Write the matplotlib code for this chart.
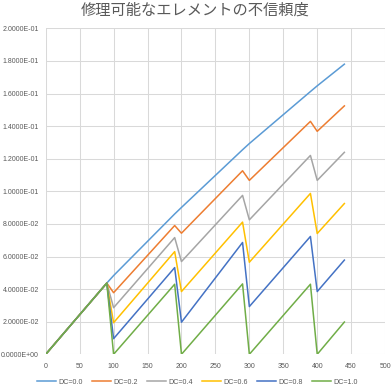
import numpy as np
import matplotlib.pyplot as plt
from matplotlib.ticker import FuncFormatter, MultipleLocator

plt.rcParams['font.family'] = ['Liberation Sans', 'DejaVu Sans']

# time points (test every 100, samples just before/after each test)
t = [0, 90, 100, 190, 200, 290, 300, 390, 400, 440]

dc00 = [0, 0.0437, 0.0483, 0.0861, 0.0901, 0.1255, 0.1293, 0.1612, 0.1647, 0.1780]
dc02 = [0, 0.0437, 0.0378, 0.0790, 0.0743, 0.1126, 0.1067, 0.1429, 0.1368, 0.1524]
dc04 = [0, 0.0437, 0.0286, 0.0716, 0.0569, 0.0975, 0.0825, 0.1220, 0.1067, 0.1239]
dc06 = [0, 0.0437, 0.0194, 0.0630, 0.0385, 0.0811, 0.0565, 0.0987, 0.0741, 0.0925]
dc08 = [0, 0.0437, 0.0096, 0.0532, 0.0197, 0.0686, 0.0293, 0.0723, 0.0385, 0.0578]
dc10 = [0, 0.0437, 0.0, 0.0430, 0.0, 0.0432, 0.0, 0.0430, 0.0, 0.0198]

labels = ['DC=0.0', 'DC=0.2', 'DC=0.4', 'DC=0.6', 'DC=0.8', 'DC=1.0']
colors = ['#5B9BD5', '#ED7D31', '#A5A5A5', '#FFC000', '#4472C4', '#70AD47']
series = [dc00, dc02, dc04, dc06, dc08, dc10]

fig = plt.figure(figsize=(3.91, 3.85), dpi=100)
ax = fig.add_axes([0.1169, 0.0797, 0.868, 0.8468])

for y, c, lab in zip(series, colors, labels):
    ax.plot(t, y, color=c, lw=1.1, label=lab)

ax.set_xlim(0, 500)
ax.set_ylim(0, 0.2)
ax.xaxis.set_major_locator(MultipleLocator(50))
ax.yaxis.set_major_locator(MultipleLocator(0.02))
ax.yaxis.set_major_formatter(FuncFormatter(lambda v, p: '%.4E' % v))
ax.grid(True, color='#d9d9d9', lw=0.75)
ax.set_axisbelow(True)
for s in ax.spines.values():
    s.set_visible(False)
ax.tick_params(length=0, labelsize=5.0, labelcolor='#595959')
ax.tick_params(axis='y', pad=5)
ax.tick_params(axis='x', pad=6)

fig.suptitle('修理可能なエレメントの不信頼度', x=0.5, y=0.995, fontsize=11,
             color='#595959', family=['Noto Sans CJK JP', 'DejaVu Sans'])

fig.legend(loc='lower center', bbox_to_anchor=(0.505, -0.018), ncol=6, frameon=False,
           fontsize=5.1, labelcolor='#595959', handlelength=2.7, handletextpad=0.3,
           columnspacing=1.3)

fig.savefig('out.png', dpi=100)
